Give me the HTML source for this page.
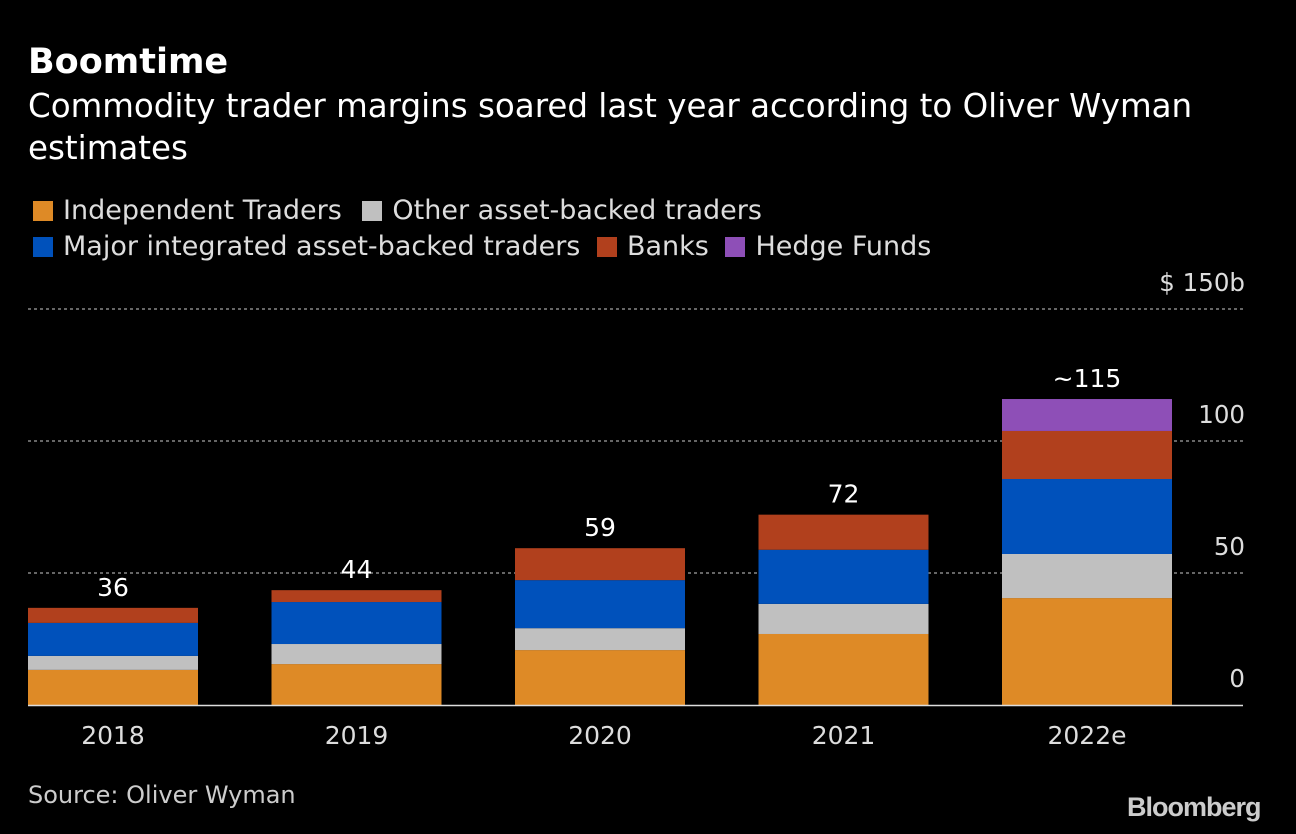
<!DOCTYPE html>
<html><head><meta charset="utf-8"><style>
body{margin:0;background:#000;width:1296px;height:834px;overflow:hidden;font-family:"DejaVu Sans",sans-serif;color:#fff}
.t{position:absolute}
.sw{display:inline-block;width:20px;height:20px;vertical-align:-2px;margin-right:10px}
</style></head><body>
<div class="t" style="left:28px;top:42px;font-size:35px;font-weight:bold">Boomtime</div>
<div class="t" style="left:28px;top:85px;font-size:32.5px;line-height:42px;width:1240px">Commodity trader margins soared last year according to Oliver Wyman estimates</div>
<div class="t" style="left:33px;top:193px;font-size:27px;line-height:36px;color:#ddd">
<div><span><span class="sw" style="background:#de8a26"></span>Independent Traders</span> <span><span class="sw" style="background:#c0c0c0;margin-left:12px"></span>Other asset-backed traders</span></div>
<div><span><span class="sw" style="background:#0051bb"></span>Major integrated asset-backed traders</span> <span><span class="sw" style="background:#b1401d;margin-left:8px"></span>Banks</span> <span><span class="sw" style="background:#8e4fb7;margin-left:8px"></span>Hedge Funds</span></div>
</div>
<svg id="c" width="1296" height="834" style="position:absolute;left:0;top:0"></svg>
<div class="t" style="left:28px;top:781px;font-size:24px;color:#ccc">Source: Oliver Wyman</div>
<div class="t" style="left:1127px;top:792px;font-family:'Liberation Sans',sans-serif;font-size:27px;font-weight:bold;color:#ccc;letter-spacing:-1px">Bloomberg</div>
<script>
const categories=["2018","2019","2020","2021","2022e"];
const independent=[13.3,15.5,20.8,26.9,40.5];
const otherAsset=[5.3,7.6,8.3,11.4,16.7];
const major=[12.5,15.9,18.2,20.5,28.4];
const banks=[5.7,4.5,12.1,13.3,18.2];
const hedge=[0,0,0,0,12.1];
const totalLabels=["36","44","59","72","~115"];
const ticks=[0,50,100,150];
const tickLabels=["0","50","100","$ 150b"];
const colors=["#de8a26","#c0c0c0","#0051bb","#b1401d","#8e4fb7"];
const series=[independent,otherAsset,major,banks,hedge];
const names=["independent","other","major","banks","hedge"];
const svg=document.getElementById('c'),NS="http://www.w3.org/2000/svg";
const y=v=>705-v*2.64, x=i=>28+i*243.5;
function mk(t,a){const e=document.createElementNS(NS,t);for(const k in a)e.setAttribute(k,a[k]);svg.appendChild(e);return e;}
ticks.forEach((t,i)=>{
 if(t>0){const l=mk('line',{x1:28,x2:1243,y1:y(t),y2:y(t),stroke:'#888','stroke-width':1.5,'stroke-dasharray':'3,3'});
 
 }
 const tx=mk('text',{x:1245,y:y(t)-18,'text-anchor':'end',fill:'#ddd','font-size':24.5,'font-family':'DejaVu Sans'});
 tx.textContent=tickLabels[i];
 
 
});
categories.forEach((c,i)=>{
 let acc=0;
 series.forEach((s,k)=>{if(s[i]<=0)return;
  const r=mk('rect',{x:x(i),y:y(acc+s[i]),width:170,height:s[i]*2.64,fill:colors[k]});
  
  
  acc+=s[i];});
 const tl=mk('text',{x:x(i)+85,y:y(acc)-12,'text-anchor':'middle',fill:'#fff','font-size':25,'font-family':'DejaVu Sans'});
 tl.textContent=totalLabels[i];
 
 
 const xl=mk('text',{x:x(i)+85,y:744,'text-anchor':'middle',fill:'#ddd','font-size':25,'font-family':'DejaVu Sans'});
 xl.textContent=c;
 
 
});
const ax=mk('line',{x1:28,x2:1243,y1:705.5,y2:705.5,stroke:'#ddd','stroke-width':1.5});


</script>
</body></html>
